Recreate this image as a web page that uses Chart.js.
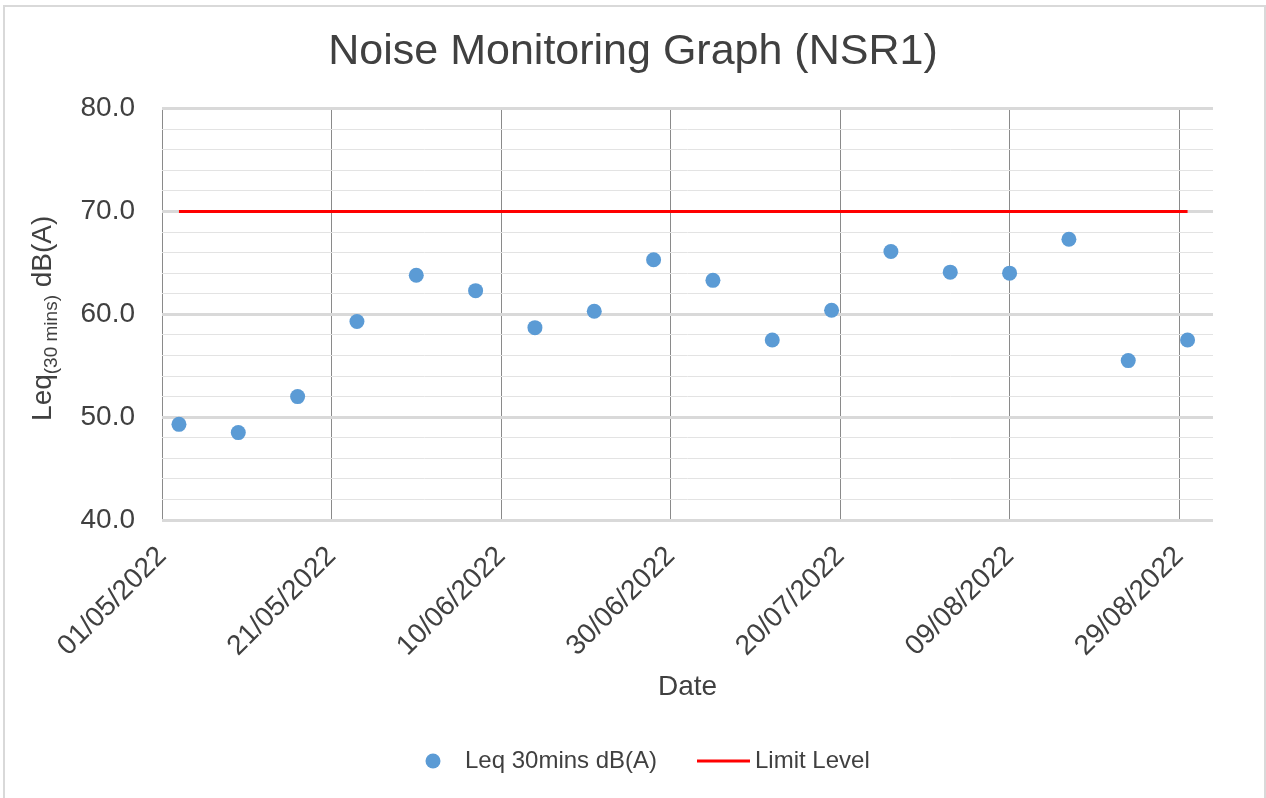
<!DOCTYPE html>
<html>
<head>
<meta charset="utf-8">
<script src="https://cdn.jsdelivr.net/npm/chart.js@4.4.0/dist/chart.umd.min.js"></script>
<style>
  body { margin: 0; background: #fff; }
  #wrap { position: relative; width: 1266px; height: 798px; overflow: hidden; }
  #frame { position: absolute; left: 3px; top: 5px; width: 1263px; height: 820px; border: 2px solid #d9d9d9; box-sizing: border-box; }
  canvas { position: absolute; left: 0; top: 0; }
</style>
</head>
<body>
<div id="wrap">
  <div id="frame"></div>
  <canvas id="chart" width="1266" height="798"></canvas>
</div>
<script>
// measurement dates and Leq readings
const measureDates = [
  '03/05/2022', '10/05/2022', '17/05/2022', '24/05/2022', '31/05/2022', '07/06/2022',
  '14/06/2022', '21/06/2022', '28/06/2022', '05/07/2022', '12/07/2022', '19/07/2022',
  '26/07/2022', '02/08/2022', '09/08/2022', '16/08/2022', '23/08/2022', '30/08/2022'
];
const leqValues = [49.3, 48.5, 52.0, 59.3, 63.8, 62.3, 58.7, 60.3, 65.3, 63.3, 57.5, 60.4, 66.1, 64.1, 64.0, 67.3, 55.5, 57.5];
const limitValues = [70, 70, 70, 70, 70, 70, 70, 70, 70, 70, 70, 70, 70, 70, 70, 70, 70, 70];

// date axis
const axisStart = '01/05/2022';
const axisEnd = '02/09/2022';
const tickLabels = ['01/05/2022', '21/05/2022', '10/06/2022', '30/06/2022', '20/07/2022', '09/08/2022', '29/08/2022'];

const FONT = "'Liberation Sans', Arial, sans-serif";
const TEXT = '#404040';

function toUTC(s) {
  const [d, m, y] = s.split('/').map(Number);
  return Date.UTC(y, m - 1, d);
}
// days since axis start
function dayOf(s) {
  return Math.round((toUTC(s) - toUTC(axisStart)) / 86400000);
}
function labelFor(v) {
  const t = tickLabels.find(l => dayOf(l) === v);
  return t === undefined ? null : t;
}

// y-axis title with subscript, and the legend under the chart
const extras = {
  id: 'extras',
  afterDraw(chart) {
    const ctx = chart.ctx;
    const area = chart.chartArea;
    ctx.save();
    ctx.fillStyle = TEXT;

    // Leq(30 mins) dB(A)
    const main = '28px ' + FONT;
    const sub = '19px ' + FONT;
    ctx.font = main;
    const w1 = ctx.measureText('Leq').width;
    const w3 = ctx.measureText(' dB(A)').width;
    ctx.font = sub;
    const w2 = ctx.measureText('(30 mins)').width;
    const total = w1 + w2 + w3;
    ctx.translate(51, (area.top + area.bottom) / 2 + 4);
    ctx.rotate(-Math.PI / 2);
    ctx.textBaseline = 'alphabetic';
    ctx.textAlign = 'left';
    let x = -total / 2;
    ctx.font = main;
    ctx.fillText('Leq', x, 0);
    x += w1;
    ctx.font = sub;
    ctx.fillText('(30 mins)', x, 6);
    x += w2;
    ctx.font = main;
    ctx.fillText(' dB(A)', x, 0);
    ctx.restore();

    // legend
    const ly = 761;
    const sets = chart.data.datasets;
    ctx.save();
    ctx.font = '24px ' + FONT;
    ctx.textBaseline = 'middle';
    ctx.textAlign = 'left';
    ctx.fillStyle = sets[0].backgroundColor;
    ctx.beginPath();
    ctx.arc(433, ly, 7.5, 0, Math.PI * 2);
    ctx.fill();
    ctx.fillStyle = TEXT;
    ctx.fillText(sets[0].label, 465, ly);
    ctx.strokeStyle = sets[1].borderColor;
    ctx.lineWidth = 3;
    ctx.beginPath();
    ctx.moveTo(697, ly);
    ctx.lineTo(750, ly);
    ctx.stroke();
    ctx.fillText(sets[1].label, 755, ly);
    ctx.restore();
  }
};

new Chart(document.getElementById('chart'), {
  type: 'scatter',
  data: {
    datasets: [
      {
        label: 'Leq 30mins dB(A)',
        data: measureDates.map((d, i) => ({ x: dayOf(d), y: leqValues[i] })),
        backgroundColor: '#5b9bd5',
        borderWidth: 0,
        pointRadius: 7.5,
        order: 1
      },
      {
        type: 'line',
        label: 'Limit Level',
        data: measureDates.map((d, i) => ({ x: dayOf(d), y: limitValues[i] })),
        borderColor: '#ff0000',
        borderWidth: 3,
        pointRadius: 0,
        showLine: true,
        fill: false,
        order: 2
      }
    ]
  },
  options: {
    responsive: false,
    animation: false,
    layout: { padding: { left: 53, right: 53, top: 0, bottom: 78 } },
    plugins: {
      legend: { display: false },
      tooltip: { enabled: false },
      title: {
        display: true,
        text: 'Noise Monitoring Graph (NSR1)',
        color: TEXT,
        font: { family: FONT, size: 43, weight: 'normal' },
        padding: { top: 26, bottom: 31 }
      }
    },
    scales: {
      x: {
        type: 'linear',
        min: 0,
        max: dayOf(axisEnd),
        afterBuildTicks: s => { s.ticks = tickLabels.map(t => ({ value: dayOf(t) })); },
        afterFit: s => { s.height = 200; },
        ticks: {
          autoSkip: false,
          minRotation: 45,
          maxRotation: 45,
          padding: 20,
          color: TEXT,
          font: { family: FONT, size: 28 },
          callback: v => labelFor(v)
        },
        grid: { color: '#8a8a8a', lineWidth: 1, drawTicks: false },
        border: { display: false },
        title: {
          display: true,
          text: 'Date',
          color: TEXT,
          font: { family: FONT, size: 28 },
          padding: { top: 0, bottom: 16 }
        }
      },
      y: {
        min: 40,
        max: 80,
        afterFit: s => { s.width = 109; },
        ticks: {
          stepSize: 2,
          maxTicksLimit: 40,
          autoSkip: false,
          padding: 27,
          color: TEXT,
          font: { family: FONT, size: 28 },
          callback: v => (v % 10 === 0 ? v.toFixed(1) : '')
        },
        grid: {
          color: c => (c.tick.value % 10 === 0 ? '#d9d9d9' : '#e3e3e3'),
          lineWidth: c => (c.tick.value % 10 === 0 ? 3 : 1),
          drawTicks: false
        },
        border: { display: false }
      }
    }
  },
  plugins: [extras]
});
</script>
</body>
</html>
